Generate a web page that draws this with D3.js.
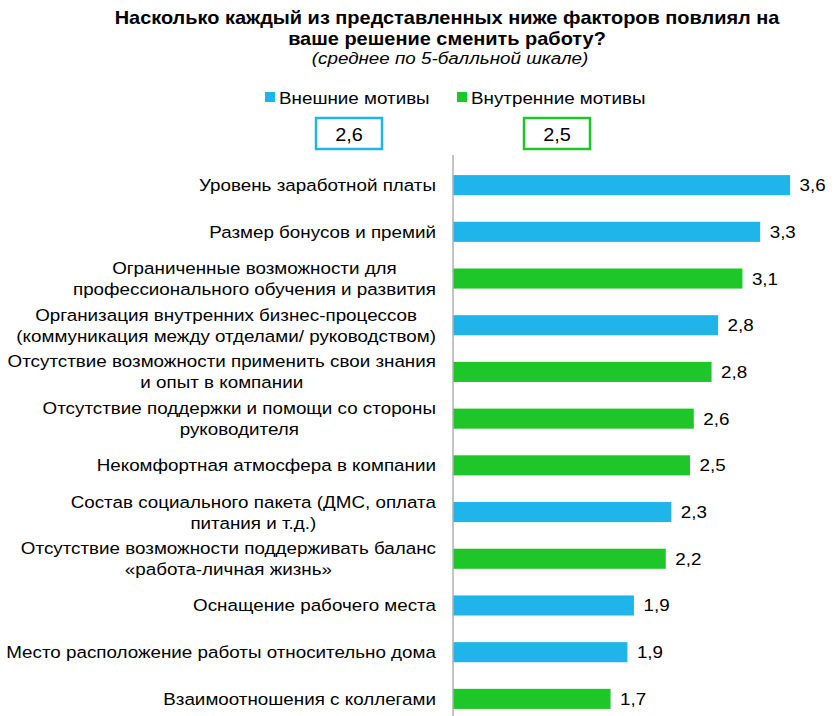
<!DOCTYPE html>
<html>
<head>
<meta charset="utf-8">
<script src="https://cdnjs.cloudflare.com/ajax/libs/d3/7.8.5/d3.min.js"></script>
<style>
body{margin:0;background:#fff;}
text{font-family:"Liberation Sans",Arial,sans-serif;fill:#000;}
</style>
</head>
<body>
<script>
const categories = [
  ["Уровень заработной платы"],
  ["Размер бонусов и премий"],
  ["Ограниченные возможности для", "профессионального обучения и развития"],
  ["Организация внутренних бизнес-процессов", "(коммуникация между отделами/ руководством)"],
  ["Отсутствие возможности применить свои знания", "и опыт в компании"],
  ["Отсутствие поддержки  и помощи со стороны", "руководителя"],
  ["Некомфортная атмосфера в компании"],
  ["Состав социального пакета (ДМС, оплата", "питания и т.д.)"],
  ["Отсутствие возможности поддерживать баланс", "«работа-личная жизнь»"],
  ["Оснащение рабочего места"],
  ["Место расположение работы относительно дома"],
  ["Взаимоотношения с коллегами"]
];
const values = [3.60, 3.28, 3.09, 2.83, 2.76, 2.57, 2.53, 2.33, 2.27, 1.93, 1.86, 1.68];
const valueLabels = ["3,6","3,3","3,1","2,8","2,8","2,6","2,5","2,3","2,2","1,9","1,9","1,7"];
const groups = ["ext","ext","int","ext","int","int","int","ext","int","ext","ext","int"];
const legendNames = {ext: "Внешние мотивы", int: "Внутренние мотивы"};
const legendAverages = {ext: "2,6", int: "2,5"};
const colors = {ext: "#1fb5ea", int: "#1fc62a"};

const SX = 1.14; // horizontal stretch of text, as in the reference
const svg = d3.select("body").append("svg").attr("width", 835).attr("height", 716);

function txt(parent, x, y, s, size, anchor, extra) {
  const t = parent.append("g").attr("transform", `translate(${x},${y}) scale(${SX},1)`)
    .append("text").attr("font-size", size).attr("text-anchor", anchor || "start").text(s);
  if (extra) extra(t);
  return t;
}

// title
const title = ["Насколько каждый из представленных ниже факторов повлиял на", "ваше решение сменить работу?"];
title.forEach((t, i) => txt(svg, 447, 24 + i * 21, t, 17.5, "middle", e => e.attr("font-weight", "bold")));
txt(svg, 450, 64, "(среднее по 5-балльной шкале)", 16.5, "middle", e => e.attr("font-style", "italic"));

// legend
const legendPos = {ext: {sq: 265, box: 316}, int: {sq: 457, box: 524}};
["ext", "int"].forEach(k => {
  const p = legendPos[k];
  svg.append("rect").attr("x", p.sq).attr("y", 92).attr("width", 10).attr("height", 10).attr("fill", colors[k]);
  txt(svg, p.sq + 14, 104, legendNames[k], 16.5);
  svg.append("rect").attr("x", p.box).attr("y", 118).attr("width", 66).attr("height", 31)
    .attr("fill", "none").attr("stroke", colors[k]).attr("stroke-width", 2.5);
  txt(svg, p.box + 33, 141, legendAverages[k], 17.5, "middle");
});

// scales
const x = d3.scaleLinear().domain([0, 1]).range([453, 546.5]);
const y = d3.scaleBand().domain(d3.range(values.length)).range([162, 722]).paddingInner(0.57).paddingOuter(0.28);

svg.append("line").attr("x1", 453).attr("x2", 453).attr("y1", 155).attr("y2", 716)
  .attr("stroke", "#888").attr("stroke-width", 1);

const rows = svg.selectAll("g.row").data(values).enter().append("g");
rows.append("rect").attr("x", x(0) + 0.5).attr("y", (d, i) => y(i))
  .attr("width", d => x(d) - x(0)).attr("height", y.bandwidth())
  .attr("fill", (d, i) => colors[groups[i]]);
rows.each(function (d, i) {
  const g = d3.select(this);
  const cy = y(i) + y.bandwidth() / 2;
  txt(g, x(d) + 10, cy + 6, valueLabels[i], 16.5);
  const lines = categories[i];
  // measure widest line, then center each line in the right-aligned block
  const probe = svg.append("text").attr("font-size", 16.5);
  const maxW = d3.max(lines, t => { probe.text(t); return probe.node().getComputedTextLength(); }) * SX;
  probe.remove();
  const cx = 436 - maxW / 2;
  lines.forEach((t, j) => txt(g, cx, cy + 6 + (j - (lines.length - 1) / 2) * 21, t, 16.5, "middle"));
});
</script>
</body>
</html>
